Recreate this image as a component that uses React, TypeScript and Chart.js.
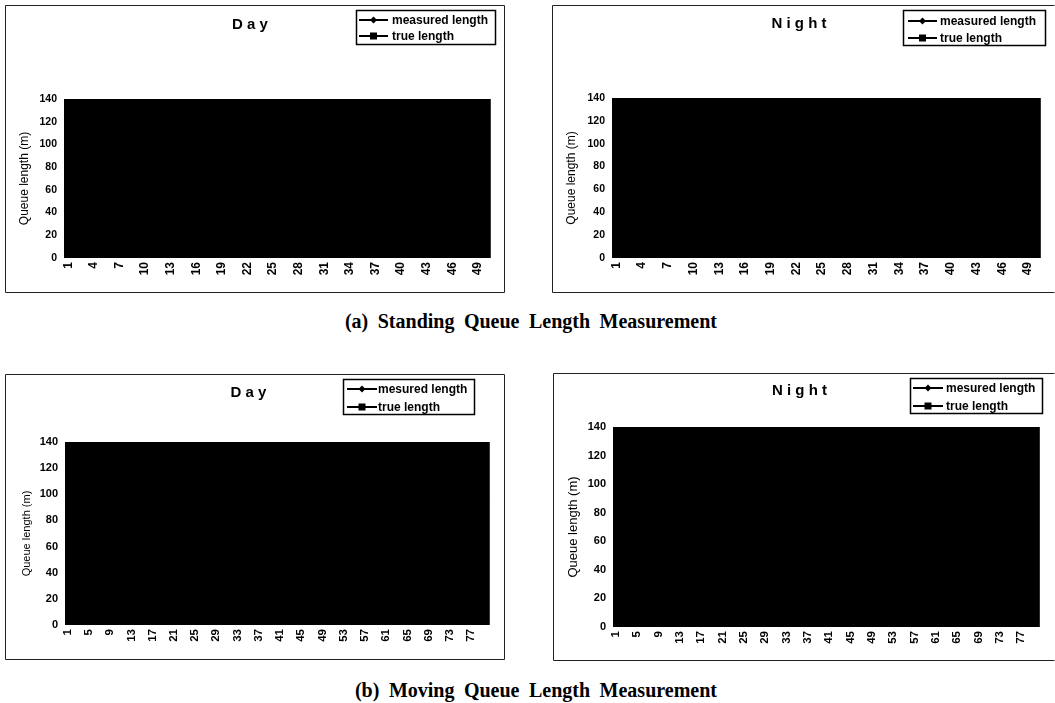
import React, { useEffect, useRef } from 'react';
import { Chart, registerables } from 'chart.js';

Chart.register(...registerables);

// ---------------- data ----------------
const standingLabels = Array.from({ length: 50 }, (_, i) => String(i + 1));
const movingLabels = Array.from({ length: 80 }, (_, i) => String(i + 1));
const yMin = 0;
const yMax = 140;
const yStep = 20;
const panelTitles = ['D a y', 'N i g h t'];
const standingSeriesNames = ['measured length', 'true length'];
const movingSeriesNames = ['mesured length', 'true length'];
const yAxisTitle = 'Queue length (m)';
const captionA = '(a) Standing Queue Length Measurement';
const captionB = '(b) Moving Queue Length Measurement';

const standingDayMeasured = [35, 62, 48, 90, 115, 72, 110, 55, 40, 84, 97, 66, 30, 58, 120, 101, 77, 45, 88, 63, 52, 94, 128, 70, 41, 83, 106, 60, 37, 75, 118, 92, 56, 68, 99, 47, 81, 124, 65, 39, 87, 111, 59, 73, 102, 50, 95, 130, 78, 115];
const standingDayTrue = [38, 60, 50, 86, 118, 70, 112, 52, 43, 80, 99, 63, 33, 60, 116, 104, 74, 48, 85, 66, 50, 97, 125, 73, 44, 80, 109, 57, 40, 72, 121, 89, 59, 65, 102, 44, 84, 121, 68, 36, 90, 108, 62, 70, 105, 47, 98, 127, 81, 112];
const standingNightMeasured = [22, 45, 70, 95, 58, 33, 80, 120, 102, 64, 41, 27, 88, 113, 76, 50, 24, 66, 97, 131, 85, 60, 38, 10, 55, 92, 118, 74, 47, 83, 107, 62, 35, 71, 96, 126, 89, 53, 29, 68, 100, 79, 44, 57, 93, 116, 73, 49, 86, 110];
const standingNightTrue = [25, 42, 73, 92, 61, 30, 83, 117, 105, 61, 44, 24, 91, 110, 79, 47, 27, 63, 100, 128, 88, 57, 41, 13, 52, 95, 115, 77, 44, 86, 104, 65, 32, 74, 93, 123, 92, 50, 32, 65, 103, 76, 47, 54, 96, 113, 76, 46, 89, 107];
const movingDayMeasured = [40, 66, 92, 118, 75, 52, 30, 84, 109, 127, 96, 61, 43, 70, 101, 124, 88, 57, 35, 79, 112, 98, 64, 6, 48, 86, 119, 133, 90, 62, 38, 74, 105, 121, 83, 55, 31, 68, 97, 126, 94, 60, 42, 77, 110, 130, 87, 58, 36, 73, 103, 122, 81, 54, 33, 69, 99, 128, 91, 63, 45, 80, 114, 125, 29, 59, 39, 76, 108, 132, 89, 56, 34, 71, 100, 120, 82, 53, 54, 95];
const movingDayTrue = [43, 63, 95, 115, 78, 49, 33, 81, 112, 124, 99, 58, 46, 67, 104, 121, 91, 54, 38, 76, 115, 95, 67, 9, 45, 89, 116, 130, 93, 59, 41, 71, 108, 118, 86, 52, 34, 65, 100, 123, 97, 57, 45, 74, 113, 127, 90, 55, 39, 70, 106, 119, 84, 51, 36, 66, 102, 125, 94, 60, 48, 77, 117, 122, 32, 56, 42, 73, 111, 129, 92, 53, 37, 68, 103, 117, 85, 50, 57, 92];
const movingNightMeasured = [55, 82, 110, 128, 96, 67, 44, 72, 101, 123, 89, 60, 37, 65, 94, 119, 134, 103, 74, 48, 79, 108, 126, 92, 63, 40, 69, 98, 121, 87, 58, 35, 62, 91, 116, 131, 100, 71, 46, 76, 105, 124, 90, 61, 39, 67, 97, 120, 85, 56, 33, 64, 93, 118, 133, 102, 73, 47, 78, 107, 127, 95, 66, 42, 70, 99, 122, 88, 59, 36, 63, 92, 117, 130, 101, 72, 49, 80, 109, 125];
const movingNightTrue = [58, 79, 113, 125, 99, 64, 47, 69, 104, 120, 92, 57, 40, 62, 97, 116, 131, 106, 71, 51, 76, 111, 123, 95, 60, 43, 66, 101, 118, 90, 55, 38, 59, 94, 113, 128, 103, 68, 49, 73, 108, 121, 93, 58, 42, 64, 100, 117, 88, 53, 36, 61, 96, 115, 130, 105, 70, 50, 75, 110, 124, 98, 63, 45, 67, 102, 119, 91, 56, 39, 60, 95, 114, 127, 104, 69, 52, 77, 112, 122];

// ---------------- styling / layout ----------------
const SANS = '"Liberation Sans", Arial, sans-serif';
const X_AXIS_H = 30;

type LegendCfg = { x: number; y: number; w: number; h: number; rows: number[]; line0: number; line1: number; textX: number };
type PanelCfg = {
  left: number; top: number; width: number; height: number;
  plotLeft: number; plotTop: number; plotRight: number; plotBottom: number;
  title: string; titleY: number; titleSize: number;
  labels: string[]; step: number; names: string[];
  measured: number[]; truth: number[];
  legend: LegendCfg;
  yTitleX: number; yTitleSize: number; tickSize: number; xTickSize: number;
  drawRight: boolean;
};

const panels: PanelCfg[] = [
  {
    left: 5, top: 5, width: 500, height: 288,
    plotLeft: 59, plotTop: 94, plotRight: 490, plotBottom: 253,
    title: panelTitles[0], titleY: 20, titleSize: 15,
    labels: standingLabels, step: 3, names: standingSeriesNames,
    measured: standingDayMeasured, truth: standingDayTrue,
    legend: { x: 351, y: 5, w: 139, h: 34, rows: [15, 31], line0: 354, line1: 383, textX: 387 },
    yTitleX: 20, yTitleSize: 12, tickSize: 10.5, xTickSize: 12, drawRight: true,
  },
  {
    left: 552, top: 5, width: 503, height: 288,
    plotLeft: 60, plotTop: 93, plotRight: 494, plotBottom: 253,
    title: panelTitles[1], titleY: 19, titleSize: 15,
    labels: standingLabels, step: 3, names: standingSeriesNames,
    measured: standingNightMeasured, truth: standingNightTrue,
    legend: { x: 351, y: 5, w: 142, h: 35, rows: [16, 33], line0: 356, line1: 385, textX: 388 },
    yTitleX: 20, yTitleSize: 12, tickSize: 10.5, xTickSize: 12, drawRight: false,
  },
  {
    left: 5, top: 374, width: 500, height: 286,
    plotLeft: 60, plotTop: 68, plotRight: 487, plotBottom: 251,
    title: panelTitles[0], titleY: 19, titleSize: 15,
    labels: movingLabels, step: 4, names: movingSeriesNames,
    measured: movingDayMeasured, truth: movingDayTrue,
    legend: { x: 338, y: 5, w: 131, h: 35, rows: [15, 33], line0: 342, line1: 372, textX: 373 },
    yTitleX: 22, yTitleSize: 11, tickSize: 11, xTickSize: 11.5, drawRight: true,
  },
  {
    left: 553, top: 373, width: 502, height: 288,
    plotLeft: 60, plotTop: 54, plotRight: 493, plotBottom: 254,
    title: panelTitles[1], titleY: 18, titleSize: 15,
    labels: movingLabels, step: 4, names: movingSeriesNames,
    measured: movingNightMeasured, truth: movingNightTrue,
    legend: { x: 357, y: 5, w: 132, h: 35, rows: [15, 33], line0: 360, line1: 390, textX: 393 },
    yTitleX: 20, yTitleSize: 13, tickSize: 11, xTickSize: 11.5, drawRight: false,
  },
];

// ---------------- plugins ----------------
const plotBgPlugin = {
  id: 'plotBg',
  beforeDatasetsDraw(chart: any) {
    const { ctx, chartArea } = chart;
    ctx.save();
    ctx.fillStyle = '#000';
    ctx.fillRect(chartArea.left, chartArea.top, chartArea.right - chartArea.left, chartArea.bottom - chartArea.top);
    ctx.restore();
  },
};

const frameLegendPlugin = {
  id: 'frameLegend',
  afterDraw(chart: any, _args: any, opts: any) {
    const { ctx, width, height } = chart;
    ctx.save();
    // panel frame
    ctx.strokeStyle = '#222';
    ctx.lineWidth = 1;
    ctx.beginPath();
    ctx.moveTo(0.5, 0.5);
    ctx.lineTo(width - 0.5, 0.5);
    if (opts.drawRight) ctx.lineTo(width - 0.5, height - 0.5); else ctx.moveTo(width - 0.5, height - 0.5);
    ctx.lineTo(0.5, height - 0.5);
    ctx.lineTo(0.5, 0.5);
    ctx.stroke();
    // legend
    const L = opts.legend as LegendCfg;
    ctx.strokeStyle = '#000';
    ctx.lineWidth = 1.5;
    ctx.strokeRect(L.x + 0.5, L.y + 0.5, L.w, L.h);
    ctx.font = `bold 12px ${SANS}`;
    ctx.fillStyle = '#000';
    ctx.textBaseline = 'middle';
    ctx.textAlign = 'left';
    chart.data.datasets.forEach((ds: any, i: number) => {
      const y = L.rows[i];
      ctx.lineWidth = 2;
      ctx.beginPath();
      ctx.moveTo(L.line0, y);
      ctx.lineTo(L.line1, y);
      ctx.stroke();
      const mx = (L.line0 + L.line1) / 2;
      ctx.beginPath();
      if (i === 0) {
        ctx.moveTo(mx, y - 3.5);
        ctx.lineTo(mx + 3.5, y);
        ctx.lineTo(mx, y + 3.5);
        ctx.lineTo(mx - 3.5, y);
        ctx.closePath();
      } else {
        ctx.rect(mx - 3.5, y - 3.5, 7, 7);
      }
      ctx.fill();
      ctx.fillText(ds.label, L.textX, y + 0.5);
    });
    ctx.restore();
  },
};

// ---------------- components ----------------
function Panel({ cfg }: { cfg: PanelCfg }) {
  const ref = useRef<HTMLCanvasElement | null>(null);
  useEffect(() => {
    if (!ref.current) return;
    const titleLH = cfg.titleSize * 1.2;
    const titlePadTop = cfg.titleY - titleLH / 2;
    const titlePadBottom = cfg.plotTop - titlePadTop - titleLH;
    const yTitleLH = cfg.yTitleSize * 1.2;
    const chart = new Chart(ref.current, {
      type: 'line',
      data: {
        labels: cfg.labels,
        datasets: [
          { label: cfg.names[0], data: cfg.measured, borderColor: '#000', backgroundColor: '#000', borderWidth: 1, pointRadius: 1.5, pointStyle: 'rectRot' },
          { label: cfg.names[1], data: cfg.truth, borderColor: '#000', backgroundColor: '#000', borderWidth: 1, pointRadius: 1.5, pointStyle: 'rect' },
        ],
      },
      options: {
        responsive: false,
        animation: false,
        devicePixelRatio: 1,
        layout: {
          padding: { left: 0, top: 0, right: cfg.width - cfg.plotRight, bottom: cfg.height - cfg.plotBottom - X_AXIS_H },
        },
        plugins: {
          legend: { display: false },
          tooltip: { enabled: false },
          title: {
            display: true,
            text: cfg.title,
            color: '#000',
            font: { family: SANS, size: cfg.titleSize, weight: 'bold', lineHeight: 1.2 },
            padding: { top: titlePadTop, bottom: titlePadBottom },
          },
          frameLegend: { legend: cfg.legend, drawRight: cfg.drawRight },
        } as any,
        scales: {
          x: {
            type: 'category',
            offset: true,
            grid: { display: false, drawTicks: false },
            border: { display: false },
            ticks: {
              autoSkip: false,
              maxRotation: 90,
              minRotation: 90,
              padding: 4,
              color: '#000',
              font: { family: SANS, size: cfg.xTickSize, weight: 'bold' },
              callback: (_v: any, i: number) => (i % cfg.step === 0 ? cfg.labels[i] : ''),
            },
            afterFit: (s: any) => { s.height = X_AXIS_H; },
          },
          y: {
            min: yMin,
            max: yMax,
            grid: { display: false, drawTicks: false },
            border: { display: false },
            ticks: {
              stepSize: yStep,
              padding: 7,
              color: '#000',
              font: { family: SANS, size: cfg.tickSize, weight: 'bold' },
            },
            title: {
              display: true,
              text: yAxisTitle,
              color: '#000',
              font: { family: SANS, size: cfg.yTitleSize, lineHeight: 1.2 },
              padding: { top: cfg.yTitleX - yTitleLH / 2, bottom: 0 },
            },
            afterFit: (s: any) => { s.width = cfg.plotLeft; },
          },
        },
      },
      plugins: [plotBgPlugin, frameLegendPlugin],
    });
    return () => chart.destroy();
  }, [cfg]);
  return (
    <canvas
      ref={ref}
      width={cfg.width}
      height={cfg.height}
      style={{ position: 'absolute', left: cfg.left, top: cfg.top, width: cfg.width, height: cfg.height }}
    />
  );
}

const captionStyle: React.CSSProperties = {
  position: 'absolute',
  fontFamily: '"Liberation Serif", "Times New Roman", serif',
  fontSize: 20,
  fontWeight: 'bold',
  lineHeight: '20px',
  wordSpacing: 4.5,
  whiteSpace: 'nowrap',
  color: '#000',
  right: 338,
};

export default function App() {
  return (
    <div style={{ position: 'absolute', left: 0, top: 0, width: 1055, height: 703, background: '#fff', overflow: 'hidden' }}>
      {panels.map((p, i) => (
        <Panel key={i} cfg={p} />
      ))}
      <div style={{ ...captionStyle, top: 311 }}>{captionA}</div>
      <div style={{ ...captionStyle, top: 680 }}>{captionB}</div>
    </div>
  );
}
